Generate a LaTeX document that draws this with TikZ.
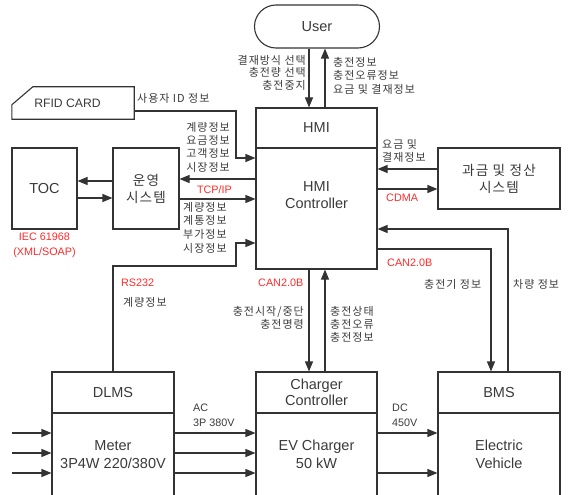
\documentclass[tikz,border=0pt]{standalone}
\usepackage{fontspec}
\setmainfont{Liberation Sans}
\newfontfamily\kr[LetterSpace=9]{Noto Sans CJK KR}
\usetikzlibrary{arrows.meta}
\definecolor{ln}{HTML}{333333}
\definecolor{tx}{HTML}{3A3A3A}
\definecolor{rd}{HTML}{FF2A2A}
\begin{document}
\begin{tikzpicture}[x=1pt,y=-1pt,
  box/.style={draw=ln, line width=1.1pt, inner sep=0pt, text=tx, align=center,
    font=\fontsize{14.5}{17}\selectfont},
  krbox/.style={box, font=\kr\fontsize{13.6}{17}\selectfont},
  boxtext/.style={inner sep=0pt, text=tx, align=center, font=\fontsize{14.5}{17}\selectfont},
  arr/.style={draw=ln, line width=1.1pt, -{Triangle[length=10pt,width=8pt]}},
  wire/.style={draw=ln, line width=1.1pt},
  lbl/.style={inner sep=0pt, text=tx, font=\kr\fontsize{11}{13.5}\selectfont},
  latlbl/.style={inner sep=0pt, text=tx, font=\fontsize{10.8}{15}\selectfont},
  redlbl/.style={inner sep=0pt, text=rd, font=\fontsize{10.8}{15}\selectfont}
]
\useasboundingbox (0,0) rectangle (568,495);
\clip (0,0) rectangle (568,495);

% boxes
\node[box, rounded corners=21.5pt, minimum width=125pt, minimum height=43pt] (user) at (317,26.5) {User};
\node[box, minimum width=121pt, minimum height=40pt] (hmi) at (316.5,128) {HMI};
\node[box, minimum width=121pt, minimum height=121pt] (hmictl) at (316.5,208.5) {};
\node[boxtext] (hmictltxt) at (316.5,195.5) {HMI\\Controller};
\node[box, minimum width=65pt, minimum height=81pt] (toc) at (44.5,188.5) {TOC};
\node[krbox, minimum width=66pt, minimum height=81pt] (ops) at (146,188.5) {운영\\시스템};
\node[krbox, minimum width=122pt, minimum height=61pt] (bill) at (499,178.5) {과금 및 정산\\시스템};

\node[minimum width=122pt, minimum height=32pt, inner sep=0pt] (rfid) at (73,103) {};
\draw[wire] ([xshift=21pt]rfid.north west) -- (rfid.north east) -- (rfid.south east)
  -- (rfid.south west) -- ([yshift=-18pt]rfid.north west) -- cycle;
\node[boxtext, font=\fontsize{12.2}{15}\selectfont] (rfidtxt) at (67.5,103) {RFID CARD};

\node[box, minimum width=122pt, minimum height=41pt] (dlms) at (113,392.5) {DLMS};
\node[box, minimum width=122pt, minimum height=83pt, font=\fontsize{14.5}{18.5}\selectfont] (meter) at (113,454.5) {Meter\\3P4W 220/380V};
\node[box, minimum width=121pt, minimum height=41pt, font=\fontsize{14.5}{16}\selectfont] (chgctl) at (316.5,392.5) {Charger\\Controller};
\node[box, minimum width=121pt, minimum height=83pt, font=\fontsize{14.5}{18}\selectfont] (evchg) at (316.5,454.5) {EV Charger\\50 kW};
\node[box, minimum width=122pt, minimum height=41pt] (bms) at (499,392.5) {BMS};
\node[box, minimum width=122pt, minimum height=83pt, font=\fontsize{14.5}{18}\selectfont] (ev) at (499,454.5) {Electric\\Vehicle};

% connectors
\draw[arr] (309,0 |- user.south) -- (309,0 |- hmi.north);
\draw[arr] (325,0 |- hmi.north) -- (325,0 |- user.south);
\draw[arr] (rfid.east |- 0,111) -- (236,111) -- (236,158) -- (hmictl.west |- 0,158);
\draw[arr] (hmictl.west |- 0,179) -- (ops.east |- 0,179);
\draw[arr] (ops.east |- 0,199) -- (hmictl.west |- 0,199);
\draw[arr] (ops.west |- 0,181) -- (toc.east |- 0,181);
\draw[arr] (toc.east |- 0,198) -- (ops.west |- 0,198);
\draw[arr] (bill.west |- 0,169) -- (hmictl.east |- 0,169);
\draw[arr] (hmictl.east |- 0,189) -- (bill.west |- 0,189);
\draw[arr] (dlms.north) -- (113,266) -- (236,266) -- (236,243) -- (hmictl.west |- 0,243);
\draw[arr] (309,0 |- hmictl.south) -- (309,0 |- chgctl.north);
\draw[arr] (325,0 |- chgctl.north) -- (325,0 |- hmictl.south);
\draw[arr] (hmictl.east |- 0,249) -- (491,249) -- (491,0 |- bms.north);
\draw[arr] (508,0 |- bms.north) -- (508,229) -- (hmictl.east |- 0,229);
\coordinate (in1) at (12,433);
\coordinate (in2) at (12,453);
\coordinate (in3) at (12,473);
\foreach \n in {1,2,3} \draw[arr] (in\n) -- (meter.west |- in\n);
\foreach \y in {433,453,473} \draw[arr] (meter.east |- 0,\y) -- (evchg.west |- 0,\y);
\foreach \y in {433,473} \draw[arr] (evchg.east |- 0,\y) -- (ev.west |- 0,\y);

% labels
\node[lbl, align=right, anchor=east, font=\kr\fontsize{11}{12.5}\selectfont] (u1) at (306,72.5) {결재방식 선택\\충전량 선택\\충전중지};
\node[lbl, align=left, anchor=west] (u2) at (333,75.5) {충전정보\\충전오류정보\\요금 및 결재정보};
\node[lbl, anchor=west] (idl) at (137,98) {사용자 ID 정보};
\node[lbl, align=right, anchor=east, font=\kr\fontsize{11}{13.4}\selectfont] (i1) at (230,147) {계량정보\\요금정보\\고객정보\\시장정보};
\node[redlbl] (tcp) at (214.5,190) {TCP/IP};
\node[lbl, align=left, anchor=west, font=\kr\fontsize{11}{13.7}\selectfont] (i2) at (183,227.5) {계량정보\\계통정보\\부가정보\\시장정보};
\node[redlbl, align=center] (iec) at (44.5,245.5) {IEC 61968\\(XML/SOAP)};
\node[lbl, align=left, anchor=west, font=\kr\fontsize{11}{13}\selectfont] (bl) at (382,150.5) {요금 및\\결재정보};
\node[redlbl, anchor=west] (cdma) at (386,198) {CDMA};
\node[redlbl, anchor=west] (canr) at (387,263) {CAN2.0B};
\node[redlbl, anchor=west] (canl) at (258,283) {CAN2.0B};
\node[redlbl, anchor=west] (rs) at (121,283) {RS232};
\node[lbl, anchor=west] (gl) at (123,302) {계량정보};
\node[lbl, align=right, anchor=east, font=\kr\fontsize{11}{13}\selectfont] (c1) at (304,317.5) {충전시작/중단\\충전명령};
\node[lbl, align=left, anchor=west, font=\kr\fontsize{11}{13}\selectfont] (c2) at (330,324) {충전상태\\충전오류\\충전정보};
\node[lbl, anchor=west] (ci) at (424,284) {충전기 정보};
\node[lbl, anchor=west] (vi) at (513,284) {차량 정보};
\node[latlbl, align=left, anchor=west] (ac) at (193,415.5) {AC\\3P 380V};
\node[latlbl, align=left, anchor=west] (dc) at (392,415.5) {DC\\450V};
\end{tikzpicture}
\end{document}
